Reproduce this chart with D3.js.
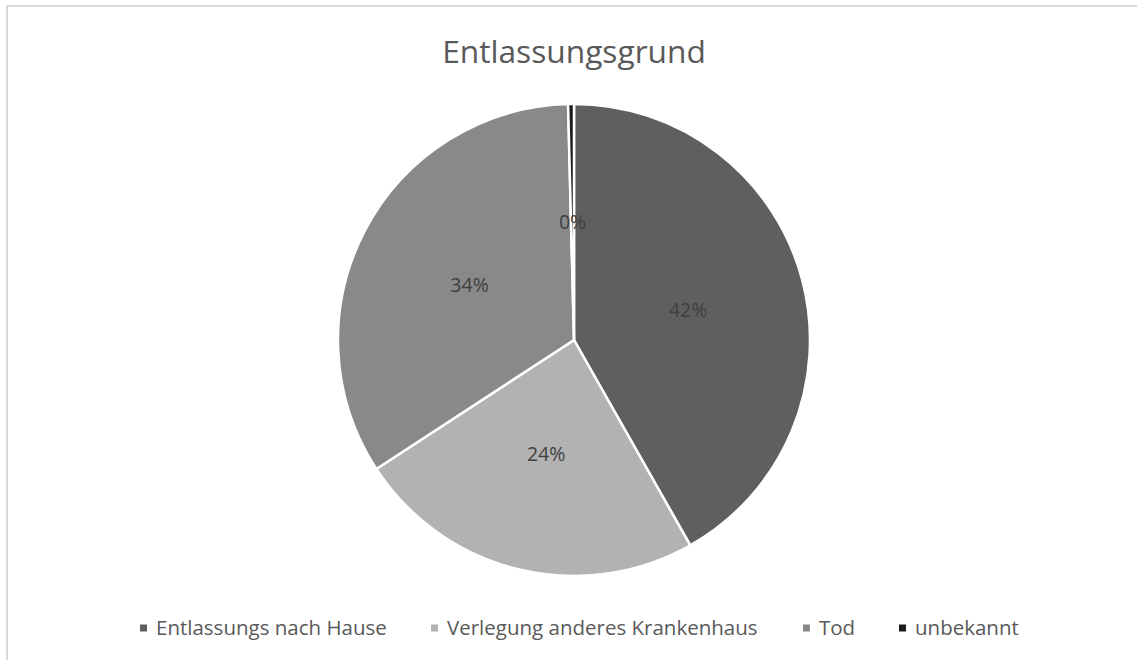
<!DOCTYPE html>
<html>
<head>
<meta charset="utf-8">
<script src="https://cdn.jsdelivr.net/npm/d3@7"></script>
<style>
  html, body { margin: 0; padding: 0; background: #fff; }
  svg { display: block; }
</style>
</head>
<body>
<svg id="chart" width="1137" height="660"></svg>
<script>
// Discharge reasons, shares in percent
const categories = ["Entlassungs nach Hause", "Verlegung anderes Krankenhaus", "Tod", "unbekannt"];
const shares = [41.8, 24.0, 33.8, 0.4];
const sliceColors = ["#5f5f5f", "#b2b2b2", "#898989", "#1c1c1c"];
const chartTitle = "Entlassungsgrund";

const svg = d3.select("#chart");
const W = 1137, H = 660;
const font = "'Open Sans', Calibri, sans-serif";

// outer frame of the chart area
svg.append("rect")
  .attr("x", 7).attr("y", 6)
  .attr("width", W + 10).attr("height", H + 10)
  .attr("fill", "#fff")
  .attr("stroke", "#d9d9d9").attr("stroke-width", 2);

// title
svg.append("text")
  .attr("x", 574).attr("y", 63)
  .attr("text-anchor", "middle")
  .attr("font-family", font)
  .attr("font-size", 31.7)
  .attr("fill", "#595959")
  .text(chartTitle);

const cx = 574, cy = 340, R = 236;
const data = categories.map((c, i) => ({ name: c, value: shares[i], color: sliceColors[i] }));

const pie = d3.pie().value(d => d.value).sort(null);
const arc = d3.arc().innerRadius(0).outerRadius(R);
const labelArc = d3.arc().innerRadius(R * 0.5).outerRadius(R * 0.5);

const g = svg.append("g").attr("transform", `translate(${cx},${cy})`);
const arcs = pie(data);

g.selectAll("path.slice")
  .data(arcs)
  .join("path")
  .attr("class", "slice")
  .attr("d", arc)
  .attr("fill", d => d.data.color)
  .attr("stroke", "#fff")
  .attr("stroke-width", 2.5)
  .attr("stroke-linejoin", "round");

g.selectAll("text.pct")
  .data(arcs)
  .join("text")
  .attr("class", "pct")
  .attr("transform", d => `translate(${labelArc.centroid(d)})`)
  .attr("text-anchor", "middle")
  .attr("dy", "0.35em")
  .attr("font-family", font)
  .attr("font-size", 19.5)
  .attr("fill", "#404040")
  .text(d => Math.round(d.data.value) + "%");

// legend
const legendX = [140, 431, 803, 899];
const legend = svg.append("g");
data.forEach((d, i) => {
  const lg = legend.append("g").attr("transform", `translate(${legendX[i]},628)`);
  lg.append("rect")
    .attr("x", 0).attr("y", -3.5)
    .attr("width", 7).attr("height", 7)
    .attr("fill", d.color);
  lg.append("text")
    .attr("x", 16).attr("y", 0)
    .attr("dy", "0.35em")
    .attr("font-family", font)
    .attr("font-size", 20.5)
    .attr("fill", "#595959")
    .text(d.name);
});
</script>
</body>
</html>
